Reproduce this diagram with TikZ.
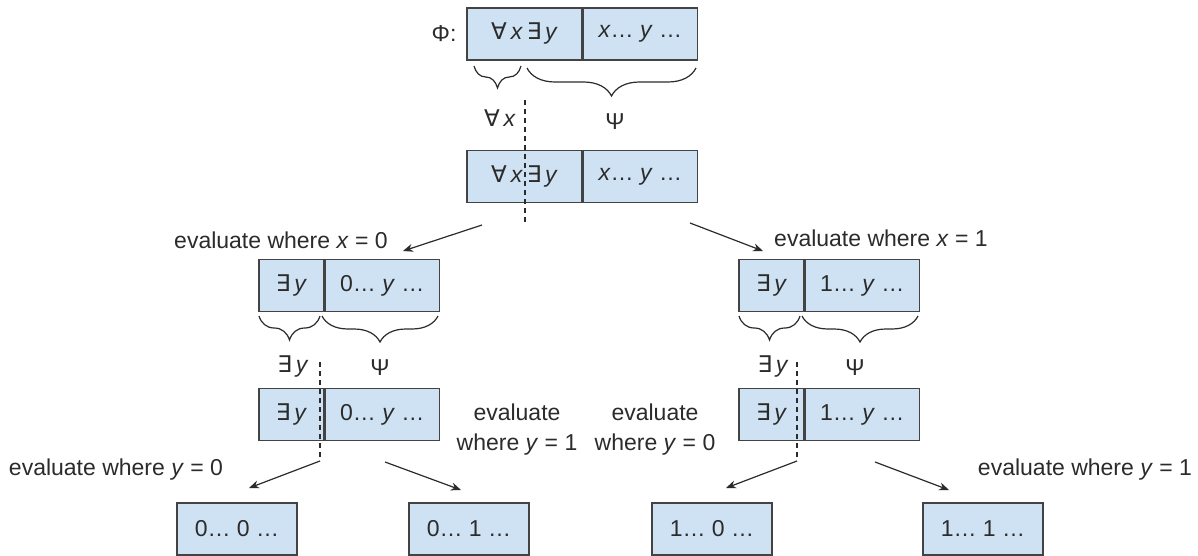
\documentclass[tikz,border=0pt]{standalone}
\usepackage{fontspec}
\setmainfont{Liberation Sans}
\newfontfamily\symfam{DejaVu Sans}
\usetikzlibrary{positioning,arrows.meta,decorations.pathreplacing}
\definecolor{cellfill}{HTML}{CFE2F3}
\definecolor{cellline}{HTML}{434343}
\definecolor{txt}{HTML}{2B2B2B}
\newcommand{\FA}{{\symfam ∀}}
\newcommand{\EX}{{\symfam ∃}}
\newcommand{\vx}{\textit{x}}
\newcommand{\vy}{\textit{y}}

\begin{document}
\begin{tikzpicture}[x=1pt, y=-1pt, font=\fontsize{23}{30}\selectfont, text=txt,
  cell/.style={draw=cellline, fill=cellfill, line width=1.3pt, minimum height=52pt, inner sep=0pt},
  qcell/.style={cell, minimum width=115pt},
  ecell/.style={cell, minimum width=65pt},
  bcell/.style={cell, minimum width=114pt},
  leaf/.style={cell, minimum width=120pt},
  brc/.style={decorate, decoration={brace, mirror, amplitude=#1}, line width=1.2pt, draw=txt},
  brc/.default=22pt,
  cut/.style={line width=1.2pt, draw=txt, dash pattern=on 5pt off 4pt},
  go/.style={-{Stealth[length=10pt,width=8pt]}, line width=1.2pt, draw=txt},
  lbl/.style={align=center}]
\useasboundingbox (0,0) rectangle (1198,556);
% formula Phi
\node[anchor=east] (phi) at (460,34) {Φ:};
\node[qcell] (q0) at (524.5,34) {\FA\,\vx\,\EX\,\vy};
\node[bcell, right=0pt of q0] (m0) {\vx… \vy{} …};
\coordinate (b1a) at (474,66); \coordinate (b1b) at (521,66);
\coordinate (b2a) at (527,68); \coordinate (b2b) at (696,68);
\draw[brc] (b1a) -- (b1b);
\draw[brc=28pt] (b2a) -- (b2b);
\node (qx) at (500,118) {\FA\,\vx};
\node (psi0) at (615,122) {Ψ};
% split on x
\node[qcell] (q1) at (524.5,176.5) {\FA\,\vx\,\EX\,\vy};
\node[bcell, right=0pt of q1] (m1) {\vx… \vy{} …};
\coordinate (c1t) at (525,100); \coordinate (c1b) at (525,225);
\draw[cut] (c1t) -- (c1b);
\coordinate (x0s) at (482,225); \coordinate (x0e) at (403,251);
\coordinate (x1s) at (690,223); \coordinate (x1e) at (763,251);
\draw[go] (x0s) -- (x0e);
\draw[go] (x1s) -- (x1e);
\node (ev0) at (281,240) {evaluate where \vx{} = 0};
\node (ev1) at (881,238) {evaluate where \vx{} = 1};
% x = 0 and x = 1
\node[ecell] (e0) at (291.5,285.5) {\EX\,\vy};
\node[bcell, right=0pt of e0] (m2) {0… \vy{} …};
\node[ecell] (e1) at (771.5,285.5) {\EX\,\vy};
\node[bcell, right=0pt of e1] (m3) {1… \vy{} …};
\coordinate (b3a) at (259,316); \coordinate (b3b) at (320,316);
\coordinate (b4a) at (322,316); \coordinate (b4b) at (438,316);
\coordinate (b5a) at (739,316); \coordinate (b5b) at (800,316);
\coordinate (b6a) at (802,316); \coordinate (b6b) at (918,316);
\draw[brc=24pt] (b3a) -- (b3b);
\draw[brc=26pt] (b4a) -- (b4b);
\draw[brc=24pt] (b5a) -- (b5b);
\draw[brc=26pt] (b6a) -- (b6b);
\node (ey0) at (293,366) {\EX\,\vy};
\node (psi1) at (380,368) {Ψ};
\node (ey1) at (773,366) {\EX\,\vy};
\node (psi2) at (855,368) {Ψ};
% split on y
\node[ecell] (e2) at (291.5,414.5) {\EX\,\vy};
\node[bcell, right=0pt of e2] (m4) {0… \vy{} …};
\node[ecell] (e3) at (771.5,414.5) {\EX\,\vy};
\node[bcell, right=0pt of e3] (m5) {1… \vy{} …};
\coordinate (c2t) at (320,362); \coordinate (c2b) at (320,461);
\coordinate (c3t) at (797,362); \coordinate (c3b) at (797,461);
\draw[cut] (c2t) -- (c2b);
\draw[cut] (c3t) -- (c3b);
\coordinate (y0e) at (249,488);
\coordinate (y1s) at (385,462); \coordinate (y1e) at (461,490);
\coordinate (y2e) at (726,488);
\coordinate (y3s) at (875,462); \coordinate (y3e) at (949,490);
\draw[go] (c2b) -- (y0e);
\draw[go] (y1s) -- (y1e);
\draw[go] (c3b) -- (y2e);
\draw[go] (y3s) -- (y3e);
\node (ev2) at (116,470) {evaluate where \vy{} = 0};
\node[lbl] (ev3) at (517,430) {evaluate\\where \vy{} = 1};
\node[lbl] (ev4) at (655,430) {evaluate\\where \vy{} = 0};
\node (ev5) at (1085,470) {evaluate where \vy{} = 1};
% leaves
\node[leaf] (l00) at (237,529) {0… 0 …};
\node[leaf] (l01) at (469,529) {0… 1 …};
\node[leaf] (l10) at (712,529) {1… 0 …};
\node[leaf] (l11) at (983,529) {1… 1 …};
\end{tikzpicture}
\end{document}
